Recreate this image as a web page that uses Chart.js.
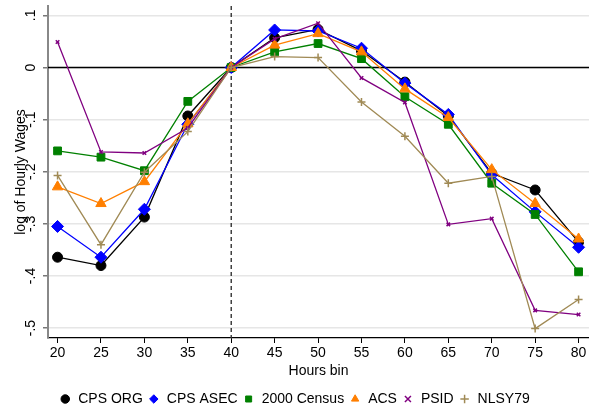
<!DOCTYPE html>
<html>
<head>
<meta charset="utf-8">
<script src="https://cdn.jsdelivr.net/npm/chart.js@4/dist/chart.umd.min.js"></script>
<style>
  html, body { margin: 0; padding: 0; background: #fff; }
  #wrap { width: 589px; height: 410px; }
</style>
</head>
<body>
<div id="wrap"><canvas id="hoursChart"></canvas></div>
<script>
const hoursBins = [20, 25, 30, 35, 40, 45, 50, 55, 60, 65, 70, 75, 80];
const yTickValues = [-0.5, -0.4, -0.3, -0.2, -0.1, 0, 0.1];
const yTickLabels = ['-.5', '-.4', '-.3', '-.2', '-.1', '0', '.1'];

const cpsOrg    = [-0.364, -0.380, -0.287, -0.093, 0, 0.057, 0.073, 0.032, -0.028, -0.093, -0.203, -0.235, -0.335];
const cpsAsec   = [-0.305, -0.364, -0.272, -0.109, 0, 0.072, 0.070, 0.037, -0.030, -0.090, -0.206, -0.277, -0.345];
const census2000 = [-0.160, -0.172, -0.198, -0.065, 0, 0.030, 0.046, 0.017, -0.056, -0.109, -0.222, -0.282, -0.392];
const acs       = [-0.229, -0.261, -0.219, -0.108, 0, 0.043, 0.065, 0.030, -0.041, -0.096, -0.196, -0.261, -0.329];
const psid      = [0.049, -0.162, -0.164, -0.116, 0, 0.055, 0.085, -0.020, -0.067, -0.301, -0.290, -0.466, -0.474];
const nlsy79    = [-0.207, -0.340, -0.201, -0.123, 0, 0.021, 0.019, -0.066, -0.132, -0.222, -0.209, -0.501, -0.445];

const toPoints = arr => arr.map((v, i) => ({ x: hoursBins[i], y: v }));

function series(label, values, color, style, radius, order) {
    return {
        label: label,
        data: toPoints(values),
        borderColor: color,
        backgroundColor: color,
        pointBorderColor: color,
        pointBackgroundColor: color,
        pointStyle: style,
        pointRadius: radius,
        pointBorderWidth: (style === 'cross' || style === 'crossRot') ? 1.5 : 1,
        borderWidth: 1.3,
        tension: 0,
        order: order
    };
}

const refLines = {
    id: 'refLines',
    beforeDatasetsDraw(chart) {
        const { ctx, chartArea, scales } = chart;
        const y0 = scales.y.getPixelForValue(0);
        const x40 = scales.x.getPixelForValue(40);
        ctx.save();
        ctx.strokeStyle = '#000';
        ctx.lineWidth = 1.6;
        ctx.beginPath();
        ctx.moveTo(chartArea.left, y0);
        ctx.lineTo(chartArea.right, y0);
        ctx.stroke();
        ctx.strokeStyle = '#333';
        ctx.lineWidth = 1.4;
        ctx.setLineDash([4, 3]);
        ctx.beginPath();
        ctx.moveTo(x40, chartArea.top);
        ctx.lineTo(x40, chartArea.bottom);
        ctx.stroke();
        ctx.restore();
    },
    afterDraw(chart) {
        // y tick labels rotated like the original
        const { ctx, scales } = chart;
        ctx.save();
        ctx.fillStyle = '#000';
        ctx.font = '14px "Liberation Sans", Arial, sans-serif';
        ctx.textAlign = 'center';
        ctx.textBaseline = 'middle';
        yTickValues.forEach((v, i) => {
            const py = scales.y.getPixelForValue(v);
            ctx.save();
            ctx.translate(scales.y.right - 17, py);
            ctx.rotate(-Math.PI / 2);
            ctx.fillText(yTickLabels[i], 0, 0);
            ctx.restore();
        });
        ctx.restore();
    }
};

new Chart(document.getElementById('hoursChart').getContext('2d'), {
    type: 'line',
    data: {
        datasets: [
            series('CPS ORG', cpsOrg, '#000000', 'circle', 5, 6),
            series('CPS ASEC', cpsAsec, '#0000ff', 'rectRot', 6, 5),
            series('2000 Census', census2000, '#008000', 'rect', 5.5, 4),
            series('ACS', acs, '#ff7f00', 'triangle', 6, 3),
            series('PSID', psid, '#800080', 'crossRot', 2.5, 2),
            series('NLSY79', nlsy79, '#a08a55', 'cross', 4, 1)
        ]
    },
    options: {
        responsive: true,
        maintainAspectRatio: false,
        animation: false,
        layout: { autoPadding: false, padding: { top: 6, right: 0, left: 0, bottom: -6 } },
        plugins: {
            tooltip: { enabled: false },
            legend: {
                position: 'bottom',
                labels: {
                    usePointStyle: true,
                    boxHeight: 6,
                    boxWidth: 12,
                    padding: 5,
                    color: '#000',
                    font: { family: '"Liberation Sans", Arial, sans-serif', size: 14 },
                    sort: (a, b) => a.datasetIndex - b.datasetIndex
                }
            }
        },
        scales: {
            x: {
                type: 'linear',
                min: 18.9,
                max: 81.2,
                afterBuildTicks: scale => { scale.ticks = hoursBins.map(v => ({ value: v })); },
                afterFit: scale => {
                    scale.height = 49;
                    scale.paddingLeft = 0;
                    scale.paddingRight = 0;
                },
                grid: { drawOnChartArea: false, drawTicks: true, tickLength: 5, tickColor: '#000' },
                border: { color: '#000', width: 1.2 },
                ticks: {
                    color: '#000',
                    padding: 2,
                    maxRotation: 0,
                    font: { family: '"Liberation Sans", Arial, sans-serif', size: 14 }
                },
                title: {
                    display: true,
                    text: 'Hours bin',
                    color: '#000',
                    padding: { top: 0, bottom: 7 },
                    font: { family: '"Liberation Sans", Arial, sans-serif', size: 14 }
                }
            },
            y: {
                min: -0.519,
                max: 0.118,
                afterBuildTicks: scale => { scale.ticks = yTickValues.map(v => ({ value: v })); },
                afterFit: scale => { scale.width = 48; },
                grid: { color: '#e6e6e6', lineWidth: 1.5, drawTicks: true, tickLength: 5, tickColor: '#777' },
                border: { color: '#888', width: 2 },
                ticks: { display: false },
                title: {
                    display: true,
                    text: 'log of Hourly Wages',
                    color: '#000',
                    padding: { top: 13, bottom: 0 },
                    font: { family: '"Liberation Sans", Arial, sans-serif', size: 14 }
                }
            }
        }
    },
    plugins: [refLines]
});
</script>
</body>
</html>
